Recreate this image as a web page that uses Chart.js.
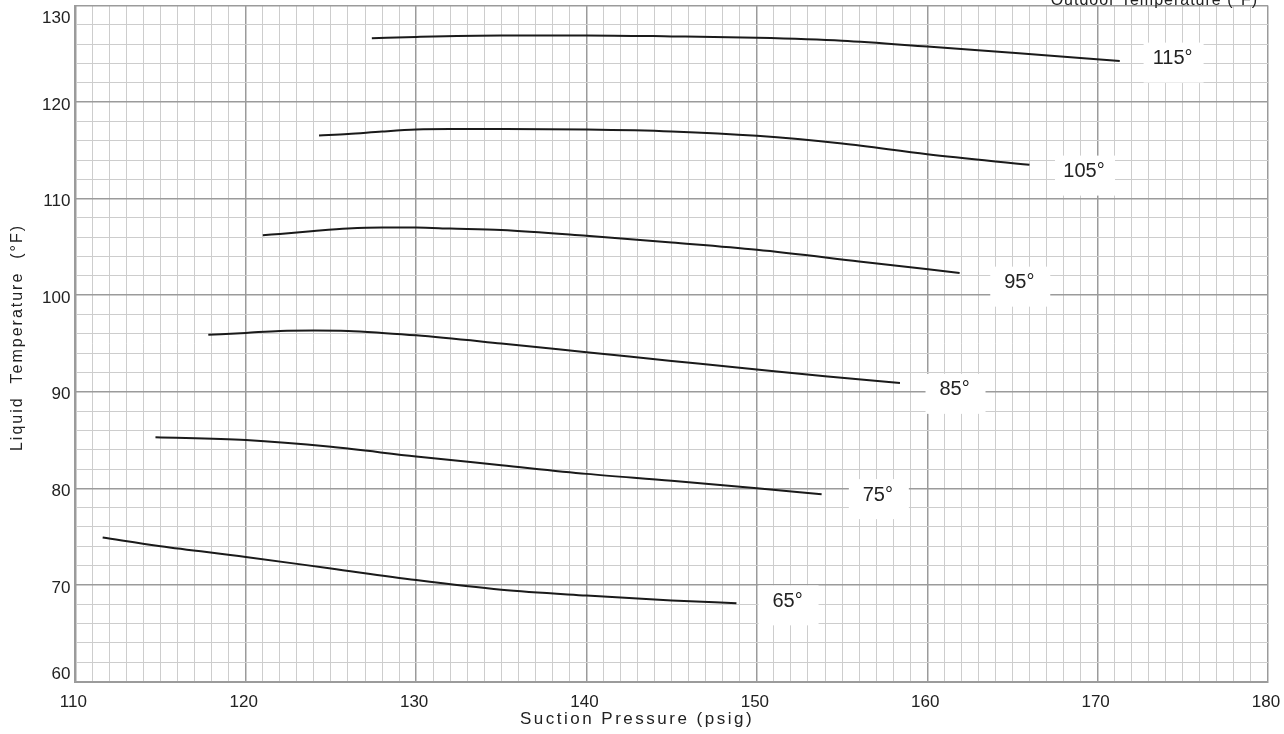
<!DOCTYPE html>
<html>
<head>
<meta charset="utf-8">
<script src="https://cdn.jsdelivr.net/npm/chart.js@4.4.1/dist/chart.umd.min.js"></script>
<style>
  html, body { margin: 0; padding: 0; background: #fff; }
  #wrap { width: 1284px; height: 734px; }
</style>
</head>
<body>
<div id="wrap"><canvas id="chart"></canvas></div>
<script>
// suction pressure (psig) and liquid temperature (°F) along each outdoor temperature curve
const press65 = [111.6, 115, 120, 125, 130, 135, 140, 145, 148.8];
const temp65 = [74.9, 74.0, 72.9, 71.7, 70.5, 69.5, 68.9, 68.4, 68.1];
const press75 = [114.7, 120, 125, 130, 135, 140, 145, 150, 153.8];
const temp75 = [85.3, 85.0, 84.3, 83.3, 82.4, 81.5, 80.8, 80.0, 79.4];
const press85 = [117.8, 120, 122, 124, 126, 128, 130, 135, 140, 145, 150, 154, 158.4];
const temp85 = [95.9, 96.1, 96.3, 96.35, 96.3, 96.1, 95.85, 95.0, 94.1, 93.2, 92.3, 91.6, 90.9];
const press95 = [121.0, 122, 124, 126, 128, 130, 132, 135, 140, 145, 150, 156, 161.9];
const temp95 = [106.2, 106.35, 106.65, 106.9, 107.0, 107.0, 106.9, 106.75, 106.15, 105.45, 104.7, 103.5, 102.3];
const press105 = [124.3, 126, 128, 130, 132, 135, 140, 145, 150, 155, 160, 166.0];
const temp105 = [116.55, 116.7, 116.95, 117.15, 117.2, 117.2, 117.15, 116.95, 116.5, 115.7, 114.6, 113.5];
const press115 = [127.4, 130, 135, 140, 145, 150, 155, 160, 165, 171.3];
const temp115 = [126.6, 126.75, 126.9, 126.9, 126.8, 126.65, 126.35, 125.75, 125.1, 124.25];

const curveNames = ['65°', '75°', '85°', '95°', '105°', '115°'];
const labelPress = [151.8, 157.1, 161.6, 165.4, 169.2, 174.4];
const labelTemp = [68.3, 79.3, 90.2, 101.3, 112.8, 124.5];

const xMajor = [110, 120, 130, 140, 150, 160, 170, 180];
const yMajor = [60, 70, 80, 90, 100, 110, 120, 130];

const MAJOR = '#9b9b9b';
const MINOR = '#cdcdcd';
const FONT = "'Liberation Sans', Arial, sans-serif";

function zip(xs, ys) {
    return xs.map((x, i) => ({ x: x, y: ys[i] }));
}

const curves = [
    zip(press65, temp65), zip(press75, temp75), zip(press85, temp85),
    zip(press95, temp95), zip(press105, temp105), zip(press115, temp115)
];

// white boxes with the outdoor temperature next to each curve
const curveLabels = {
    id: 'curveLabels',
    beforeDatasetsDraw(chart) {
        const ctx = chart.ctx;
        const xs = chart.scales.x, ys = chart.scales.y;
        ctx.save();
        ctx.font = '20px ' + FONT;
        ctx.textAlign = 'center';
        ctx.textBaseline = 'middle';
        curveNames.forEach((name, i) => {
            const px = xs.getPixelForValue(labelPress[i]);
            const py = ys.getPixelForValue(labelTemp[i]);
            ctx.fillStyle = '#fff';
            ctx.fillRect(px - 29, py - 16, 60, 40);
            ctx.fillStyle = '#222';
            ctx.fillText(name, px, py);
        });
        ctx.restore();
    }
};

// axis titles and the clipped heading at the top right
const titles = {
    id: 'titles',
    afterDraw(chart) {
        const ctx = chart.ctx;
        const area = chart.chartArea;
        ctx.save();
        ctx.fillStyle = '#222';

        ctx.font = '17px ' + FONT;
        ctx.letterSpacing = '2.5px';
        ctx.textAlign = 'center';
        ctx.textBaseline = 'middle';
        ctx.fillText('Suction Pressure (psig)', chart.width / 2 - 5, 719);

        ctx.font = '16px ' + FONT;
        ctx.letterSpacing = '1px';
        ctx.textAlign = 'right';
        ctx.textBaseline = 'alphabetic';
        ctx.fillText('Outdoor Temperature (°F)', area.right - 10, 5);

        ctx.letterSpacing = '2px';
        ctx.translate(18, (area.top + area.bottom) / 2 - 6);
        ctx.rotate(-Math.PI / 2);
        ctx.textAlign = 'center';
        ctx.textBaseline = 'middle';
        ctx.fillText('Liquid  Temperature  (°F)', 0, 0);
        ctx.restore();
    }
};

const gridColor = (ctx, major) => (major.includes(ctx.tick.value) ? MAJOR : MINOR);
const gridWidth = (ctx, major) => (major.includes(ctx.tick.value) ? 1.5 : 1);

new Chart(document.getElementById('chart'), {
    type: 'line',
    data: {
        datasets: curves.map((pts, i) => ({
            label: curveNames[i],
            data: pts,
            borderColor: '#1a1a1a',
            borderWidth: 2,
            pointRadius: 0,
            fill: false,
            cubicInterpolationMode: 'monotone'
        }))
    },
    options: {
        responsive: true,
        maintainAspectRatio: false,
        animation: false,
        layout: { padding: { top: 5.5, right: 16, left: 0, bottom: 0 } },
        plugins: {
            legend: { display: false },
            tooltip: { enabled: false }
        },
        scales: {
            x: {
                type: 'linear',
                min: 110,
                max: 180,
                afterFit: (s) => { s.height = 52.5; s.paddingLeft = 0; s.paddingRight = 0; },
                border: { color: MAJOR, width: 2 },
                grid: {
                    drawTicks: false,
                    color: (c) => gridColor(c, xMajor),
                    lineWidth: (c) => gridWidth(c, xMajor)
                },
                ticks: {
                    stepSize: 1,
                    autoSkip: false,
                    maxRotation: 0,
                    padding: 11,
                    labelOffset: -2,
                    color: '#222',
                    font: { size: 17, family: FONT },
                    callback: (v) => (xMajor.includes(v) ? String(v) : '')
                }
            },
            y: {
                min: 60,
                max: 130,
                afterFit: (s) => { s.width = 75.4; s.paddingTop = 0; s.paddingBottom = 0; },
                border: { color: MAJOR, width: 2 },
                grid: {
                    drawTicks: false,
                    color: (c) => gridColor(c, yMajor),
                    lineWidth: (c) => gridWidth(c, yMajor)
                },
                ticks: {
                    stepSize: 2,
                    autoSkip: false,
                    padding: 5,
                    labelOffset: 3,
                    color: '#222',
                    font: { size: 17, family: FONT },
                    callback: (v) => {
                        if (!yMajor.includes(v)) return '';
                        // keep the end labels inside the plot height
                        if (v === 130) return ['', '130'];
                        if (v === 60) return ['60', ''];
                        return String(v);
                    }
                }
            }
        }
    },
    plugins: [curveLabels, titles]
});
</script>
</body>
</html>
